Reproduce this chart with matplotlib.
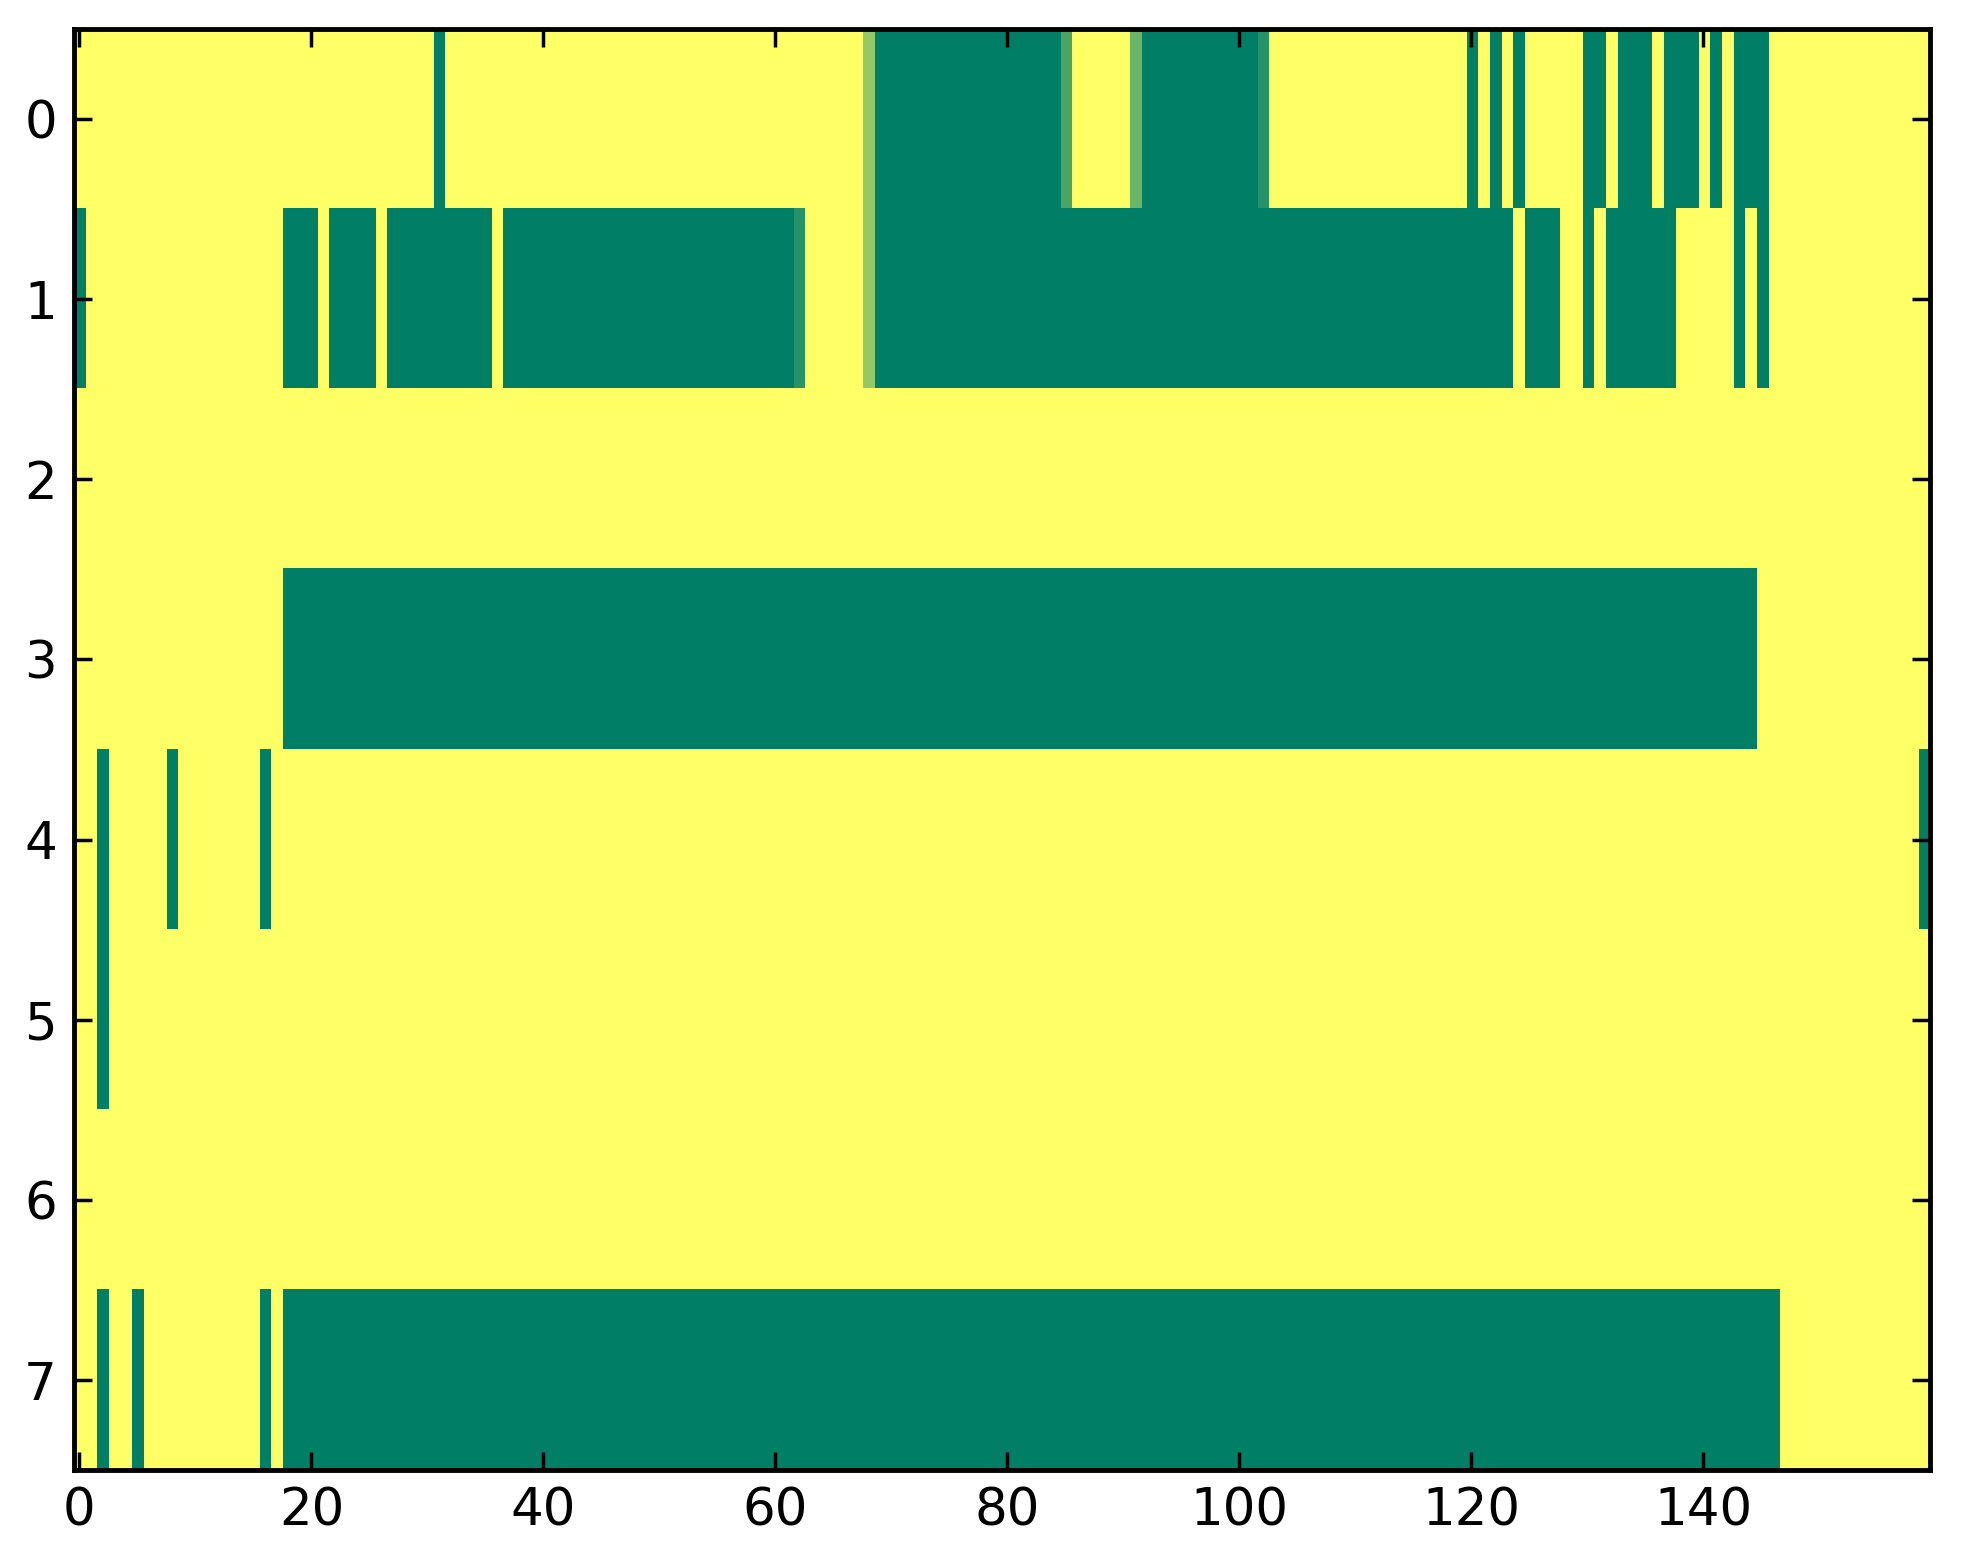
import numpy as np
import matplotlib
matplotlib.use("Agg")
import matplotlib.pyplot as plt

n_rows = 8
n_cols = 160
background = 1.0

# (first_col, last_col, value) runs that differ from the yellow background (1.0)
row0_runs = [(31, 31, 0.0), (68, 68, 0.58), (69, 84, 0.0), (85, 85, 0.29),
             (91, 91, 0.42), (92, 101, 0.0), (102, 102, 0.15),
             (120, 120, 0.0), (122, 122, 0.0), (124, 124, 0.0), (130, 131, 0.0),
             (133, 135, 0.0), (137, 139, 0.0), (141, 141, 0.0), (143, 145, 0.0)]
row1_runs = [(0, 0, 0.0), (18, 20, 0.0), (22, 25, 0.0), (27, 35, 0.0),
             (37, 61, 0.0), (62, 62, 0.15), (68, 68, 0.58), (69, 123, 0.0),
             (125, 127, 0.0), (130, 130, 0.0), (132, 137, 0.0),
             (143, 143, 0.0), (145, 145, 0.0)]
row2_runs = []
row3_runs = [(18, 144, 0.0)]
row4_runs = [(2, 2, 0.0), (8, 8, 0.0), (16, 16, 0.0), (159, 159, 0.0)]
row5_runs = [(2, 2, 0.0)]
row6_runs = []
row7_runs = [(2, 2, 0.0), (5, 5, 0.0), (16, 16, 0.0), (18, 146, 0.0)]

all_runs = [row0_runs, row1_runs, row2_runs, row3_runs,
            row4_runs, row5_runs, row6_runs, row7_runs]

xticks = [0, 20, 40, 60, 80, 100, 120, 140]
yticks = [0, 1, 2, 3, 4, 5, 6, 7]

data = np.full((n_rows, n_cols), background)
for r, runs in enumerate(all_runs):
    for a, b, v in runs:
        data[r, a:b + 1] = v

fig = plt.figure(figsize=(19.63, 15.64), dpi=100)
ax = fig.add_axes([0.0375, 0.06, 0.9455, 0.9215])
ax.imshow(data, cmap="summer", aspect="auto", interpolation="nearest",
          vmin=0, vmax=1)
ax.set_xticks(xticks)
ax.set_yticks(yticks)
ax.tick_params(direction="in", length=13, width=2.5, top=True, right=True,
               labelsize=37, pad=12)
for s in ax.spines.values():
    s.set_linewidth(3.5)
fig.savefig("out.png", dpi=100, facecolor="white")
